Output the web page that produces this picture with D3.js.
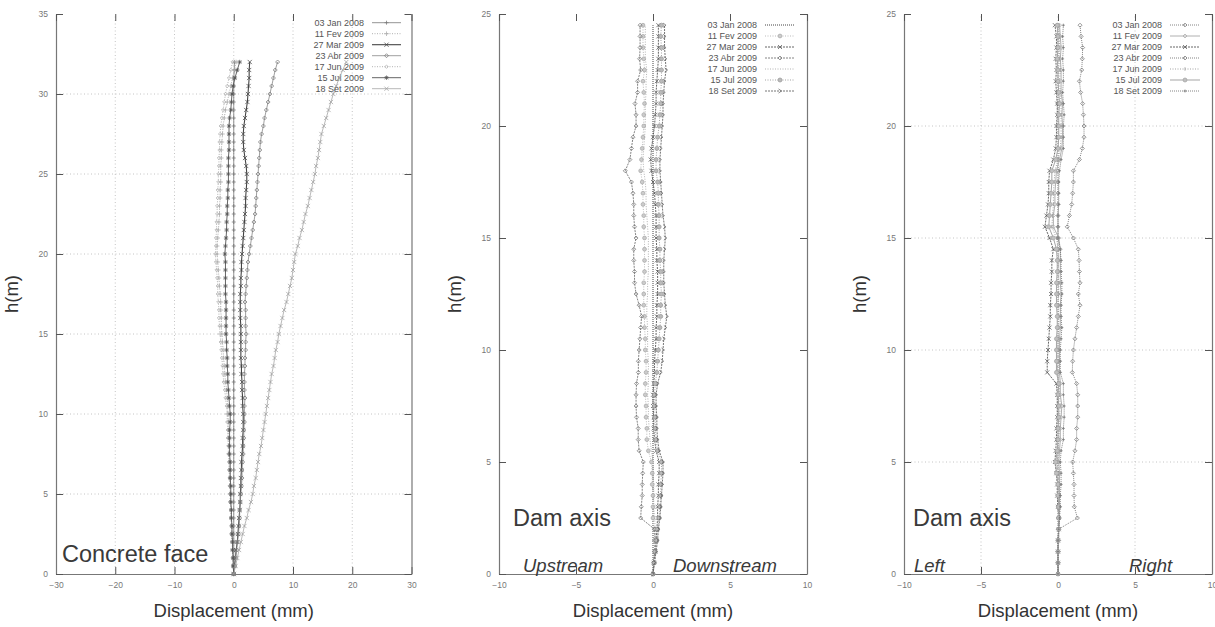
<!DOCTYPE html>
<html>
<head>
<meta charset="utf-8">
<script src="https://cdn.jsdelivr.net/npm/d3@7"></script>
<style>
body { margin: 0; background: #fff; }
svg { display: block; font-family: "Liberation Sans", Arial, sans-serif; }
</style>
</head>
<body>
<div id="chart"></div>
<script>
// dates of the readings (legend)
const dates = ["03 Jan 2008", "11 Fev 2009", "27 Mar 2009", "23 Abr 2009", "17 Jun 2009", "15 Jul 2009", "18 Set 2009"];

// tick labels
const xTicksFace = [-30, -20, -10, 0, 10, 20, 30];
const yTicksFace = [0, 5, 10, 15, 20, 25, 30, 35];
const xTicksAxis = [-10, -5, 0, 5, 10];
const yTicksAxis = [0, 5, 10, 15, 20, 25];

// gauge heights (m)
const hFace = [0, 0.5, 1, 1.5, 2, 2.5, 3, 3.5, 4, 4.5,
  5, 5.5, 6, 6.5, 7, 7.5, 8, 8.5, 9, 9.5,
  10, 10.5, 11, 11.5, 12, 12.5, 13, 13.5, 14, 14.5,
  15, 15.5, 16, 16.5, 17, 17.5, 18, 18.5, 19, 19.5,
  20, 20.5, 21, 21.5, 22, 22.5, 23, 23.5, 24, 24.5,
  25, 25.5, 26, 26.5, 27, 27.5, 28, 28.5, 29, 29.5,
  30, 30.5, 31, 31.5, 32];
const hAxis = [0, 0.5, 1, 1.5, 2, 2.5, 3, 3.5, 4, 4.5,
  5, 5.5, 6, 6.5, 7, 7.5, 8, 8.5, 9, 9.5,
  10, 10.5, 11, 11.5, 12, 12.5, 13, 13.5, 14, 14.5,
  15, 15.5, 16, 16.5, 17, 17.5, 18, 18.5, 19, 19.5,
  20, 20.5, 21, 21.5, 22, 22.5, 23, 23.5, 24, 24.5];

// concrete face displacements (mm)
const faceJan08 = [0, 0, 0, 0, 0, 0, 0, 0, 0, 0,
  0, 0, 0, 0, 0, 0, 0, 0, 0, 0,
  0, 0, 0, 0, 0, 0, 0, 0, 0, 0,
  0, 0, 0, 0, 0, 0, 0, 0, 0, 0,
  0, 0, 0, 0, 0, 0, 0, 0, 0, 0,
  0, 0, 0, 0, 0, 0, 0, 0, 0, 0,
  0, 0, 0, 0.1, 0.1];
const faceFev09 = [0.0, 0.0, -0.1, -0.1, -0.2, -0.3, -0.3, -0.4, -0.4, -0.5,
  -0.5, -0.6, -0.6, -0.7, -0.7, -0.8, -0.8, -0.9, -0.9, -0.9,
  -1.0, -1.0, -1.1, -1.2, -1.4, -1.5, -1.6, -1.7, -1.8, -1.9,
  -2.0, -2.1, -2.1, -2.2, -2.2, -2.3, -2.4, -2.5, -2.6, -2.7,
  -2.8, -2.8, -2.7, -2.6, -2.5, -2.4, -2.4, -2.3, -2.3, -2.2,
  -2.2, -2.2, -2.1, -2.1, -2.0, -1.9, -1.8, -1.6, -1.4, -1.1,
  -0.8, -0.5, -0.2, 0.1, 0.4];
const faceMar09 = [0.0, 0.1, 0.3, 0.4, 0.6, 0.7, 0.8, 0.9, 1.0, 1.1,
  1.1, 1.2, 1.2, 1.3, 1.3, 1.4, 1.5, 1.5, 1.6, 1.6,
  1.6, 1.5, 1.5, 1.4, 1.4, 1.3, 1.3, 1.2, 1.2, 1.2,
  1.2, 1.2, 1.1, 1.1, 1.1, 1.1, 1.2, 1.2, 1.3, 1.3,
  1.4, 1.5, 1.6, 1.7, 1.8, 1.9, 2.0, 2.0, 2.1, 2.2,
  2.2, 2.1, 1.9, 1.7, 1.6, 1.6, 1.7, 1.9, 2.1, 2.3,
  2.4, 2.5, 2.6, 2.6, 2.7];
const faceAbr09 = [0.0, 0.2, 0.3, 0.5, 0.6, 0.8, 0.9, 1.0, 1.0, 1.1,
  1.2, 1.3, 1.4, 1.4, 1.5, 1.6, 1.6, 1.7, 1.7, 1.8,
  1.8, 1.8, 1.9, 1.8, 1.8, 1.8, 1.9, 1.9, 2.0, 2.0,
  2.1, 2.0, 2.0, 2.0, 1.9, 2.0, 2.1, 2.2, 2.3, 2.4,
  2.6, 2.8, 3.0, 3.2, 3.4, 3.6, 3.7, 3.8, 3.9, 4.0,
  4.1, 4.2, 4.3, 4.4, 4.5, 4.7, 5.0, 5.2, 5.5, 5.8,
  6.1, 6.4, 6.7, 7.0, 7.4];
const faceJun09 = [0.0, -0.1, -0.2, -0.2, -0.3, -0.4, -0.4, -0.5, -0.5, -0.6,
  -0.6, -0.7, -0.7, -0.8, -0.8, -0.9, -0.9, -1.0, -1.0, -1.1,
  -1.1, -1.2, -1.4, -1.5, -1.7, -1.8, -1.9, -2.0, -2.1, -2.2,
  -2.3, -2.4, -2.5, -2.5, -2.6, -2.7, -2.7, -2.8, -2.9, -3.0,
  -3.1, -3.0, -3.0, -2.9, -2.9, -2.8, -2.8, -2.7, -2.7, -2.6,
  -2.6, -2.5, -2.5, -2.4, -2.4, -2.3, -2.2, -2.0, -1.8, -1.6,
  -1.4, -1.1, -0.8, -0.5, -0.2];
const faceJul09 = [0.0, -0.1, -0.1, -0.2, -0.2, -0.3, -0.3, -0.4, -0.4, -0.5,
  -0.5, -0.5, -0.6, -0.6, -0.6, -0.7, -0.7, -0.7, -0.7, -0.6,
  -0.6, -0.7, -0.8, -0.9, -1.0, -1.0, -1.1, -1.1, -1.2, -1.2,
  -1.3, -1.3, -1.3, -1.3, -1.3, -1.4, -1.4, -1.4, -1.4, -1.4,
  -1.5, -1.4, -1.3, -1.2, -1.2, -1.1, -1.1, -1.0, -1.0, -0.9,
  -0.9, -0.9, -0.9, -0.8, -0.8, -0.8, -0.8, -0.7, -0.5, -0.4,
  -0.3, -0.1, 0.2, 0.6, 1.0];
const faceSet09 = [0.0, 0.3, 0.6, 0.9, 1.2, 1.5, 1.8, 2.2, 2.5, 2.9,
  3.2, 3.4, 3.7, 3.9, 4.1, 4.3, 4.6, 4.8, 5.0, 5.2,
  5.4, 5.6, 5.8, 6.0, 6.2, 6.4, 6.7, 6.9, 7.1, 7.4,
  7.6, 7.9, 8.2, 8.5, 8.9, 9.2, 9.5, 9.8, 10.0, 10.2,
  10.4, 10.8, 11.1, 11.5, 11.8, 12.1, 12.5, 12.8, 13.1, 13.4,
  13.7, 13.9, 14.2, 14.4, 14.6, 14.8, 15.2, 15.6, 16.0, 16.4,
  16.8, 17.3, 17.8, 18.4, 19.0];

// dam axis, upstream(-) / downstream(+) (mm)
const udJan08 = [0, 0, 0, 0, 0, 0, 0, 0, 0, 0,
  0, 0, 0, 0, 0, 0, 0, 0, 0, 0,
  0, 0, 0, 0, 0, 0, 0, 0, 0, 0,
  0, 0, 0, 0, 0, 0, 0, 0, 0, 0,
  0, 0, 0, 0, 0, 0, 0, 0, 0, 0];
const udFev09 = [0, 0.05, 0.1, 0.1, 0.1, 0.0, 0.0, 0.0, -0.05, -0.05,
  -0.1, -0.3, -0.4, -0.4, -0.45, -0.45, -0.5, -0.5, -0.45, -0.45,
  -0.5, -0.5, -0.55, -0.55, -0.6, -0.6, -0.6, -0.55, -0.55, -0.55,
  -0.55, -0.6, -0.6, -0.65, -0.65, -0.7, -0.8, -0.75, -0.7, -0.65,
  -0.6, -0.6, -0.55, -0.6, -0.65, -0.55, -0.6, -0.65, -0.65, -0.65];
const udMar09 = [0, 0.05, 0.15, 0.2, 0.25, 0.3, 0.3, 0.35, 0.35, 0.4,
  0.4, 0.2, 0.1, 0.05, 0.05, 0.0, 0.0, 0.05, 0.1, 0.1,
  0.15, 0.2, 0.2, 0.25, 0.25, 0.3, 0.3, 0.3, 0.25, 0.25,
  0.2, 0.2, 0.2, 0.15, 0.1, 0.0, -0.1, -0.15, -0.1, 0.0,
  0.1, 0.15, 0.2, 0.2, 0.25, 0.3, 0.35, 0.35, 0.35, 0.35];
const udAbr09 = [0, 0.05, 0.1, 0.15, 0.1, -0.8, -0.76, -0.7, -0.7, -0.67,
  -0.63, -0.9, -0.96, -0.96, -1.07, -1.1, -1.1, -1.07, -0.95, -0.95,
  -0.9, -0.85, -0.8, -0.74, -0.9, -1.1, -1.2, -1.2, -1.25, -1.25,
  -1.1, -1.2, -1.25, -1.25, -1.3, -1.4, -1.8, -1.5, -1.4, -1.3,
  -1.1, -1.1, -1.17, -1.0, -1.0, -0.8, -0.87, -0.84, -0.84, -0.84];
const udJun09 = [0, 0.05, 0.1, 0.15, 0.15, 0.1, 0.05, 0.05, 0.05, 0.0,
  0.0, -0.1, -0.2, -0.25, -0.3, -0.3, -0.35, -0.3, -0.3, -0.3,
  -0.35, -0.35, -0.35, -0.4, -0.4, -0.35, -0.35, -0.3, -0.3, -0.3,
  -0.3, -0.35, -0.4, -0.45, -0.45, -0.5, -0.6, -0.65, -0.6, -0.55,
  -0.5, -0.5, -0.5, -0.45, -0.45, -0.4, -0.5, -0.5, -0.5, -0.5];
const udJul09 = [0, 0.1, 0.15, 0.25, 0.3, 0.4, 0.45, 0.5, 0.5, 0.55,
  0.55, 0.3, 0.2, 0.15, 0.15, 0.1, 0.1, 0.15, 0.25, 0.3,
  0.35, 0.4, 0.45, 0.5, 0.5, 0.55, 0.5, 0.5, 0.45, 0.45,
  0.4, 0.4, 0.4, 0.35, 0.35, 0.3, 0.2, 0.2, 0.25, 0.3,
  0.4, 0.45, 0.5, 0.5, 0.55, 0.55, 0.55, 0.55, 0.5, 0.55];
const udSet09 = [0, 0.1, 0.2, 0.3, 0.35, 0.45, 0.5, 0.55, 0.6, 0.65,
  0.65, 0.4, 0.3, 0.25, 0.25, 0.2, 0.2, 0.3, 0.5, 0.6,
  0.65, 0.7, 0.8, 0.9, 0.8, 0.75, 0.7, 0.7, 0.7, 0.75,
  0.8, 0.75, 0.65, 0.6, 0.55, 0.5, 0.45, 0.45, 0.5, 0.55,
  0.6, 0.65, 0.65, 0.7, 0.75, 0.85, 0.8, 0.75, 0.75, 0.75];

// dam axis, left(-) / right(+) (mm)
const lrJan08 = [0, 0, 0, 0, 0, 0, 0, 0, 0, 0,
  0, 0, 0, 0, 0, 0, 0, 0, 0, 0,
  0, 0, 0, 0, 0, 0, 0, 0, 0, 0,
  0, 0, 0, 0, 0, 0, 0, 0, 0, 0,
  0, 0, 0, 0, 0, 0, 0, 0, 0, 0];
const lrFev09 = [0, 0, 0, 0.05, 0.05, 0.1, 0.1, 0.1, 0.1, 0.1,
  0.05, 0.1, 0.15, 0.15, 0.2, 0.25, 0.15, 0.15, 0.1, 0.1,
  0.1, 0.1, 0.15, 0.15, 0.15, 0.2, 0.15, 0.15, 0.15, 0.15,
  0.05, -0.3, -0.3, -0.2, -0.2, -0.15, -0.1, 0.1, 0.25, 0.3,
  0.3, 0.25, 0.3, 0.2, 0.2, 0.2, 0.15, 0.2, 0.15, 0.1];
const lrMar09 = [0, 0, 0, 0, 0.05, 0.05, 0.0, -0.05, -0.05, -0.1,
  -0.2, -0.15, -0.1, -0.1, -0.05, -0.05, -0.05, -0.1, -0.7, -0.7,
  -0.65, -0.6, -0.55, -0.5, -0.5, -0.45, -0.45, -0.4, -0.4, -0.3,
  -0.55, -0.85, -0.75, -0.65, -0.6, -0.6, -0.55, -0.3, -0.15, -0.1,
  -0.1, -0.05, -0.05, -0.1, -0.15, -0.1, -0.15, -0.1, -0.1, -0.2];
const lrAbr09 = [0, 0, 0, 0.02, 0.04, 1.26, 1.06, 1.04, 1.04, 1.0,
  0.95, 1.1, 1.21, 1.21, 1.28, 1.28, 1.28, 1.21, 0.93, 0.95,
  1.0, 1.1, 1.21, 1.32, 1.43, 1.32, 1.43, 1.39, 1.37, 1.32,
  1.0, 0.6, 0.74, 0.89, 0.95, 1.0, 1.0, 1.39, 1.58, 1.69,
  1.69, 1.65, 1.6, 1.47, 1.39, 1.54, 1.58, 1.6, 1.5, 1.43];
const lrJun09 = [0, 0, 0, 0.05, 0.05, 0.05, 0.1, 0.05, 0.05, 0.0,
  -0.05, 0.0, 0.05, 0.1, 0.1, 0.15, 0.1, 0.1, -0.05, 0.0,
  0.0, 0.0, 0.05, 0.05, 0.0, 0.05, 0.05, 0.0, 0.05, 0.0,
  -0.1, -0.4, -0.35, -0.3, -0.3, -0.25, -0.2, 0.0, 0.15, 0.2,
  0.2, 0.2, 0.2, 0.15, 0.1, 0.15, 0.1, 0.1, 0.1, 0.05];
const lrJul09 = [0, 0, 0, 0, 0.05, 0.05, 0.05, 0.0, 0.0, -0.1,
  -0.15, -0.05, 0.0, 0.0, 0.05, 0.05, 0.0, 0.05, -0.1, -0.1,
  -0.1, -0.1, -0.05, -0.05, -0.1, -0.1, -0.1, -0.05, -0.05, -0.1,
  -0.3, -0.6, -0.55, -0.5, -0.45, -0.4, -0.4, -0.15, 0.0, 0.05,
  0.05, 0.05, 0.1, 0.05, 0.0, 0.0, -0.05, 0.0, 0.0, -0.05];
const lrSet09 = [0, 0, 0, 0, 0.05, 0.1, 0.15, 0.15, 0.2, 0.2,
  0.15, 0.2, 0.35, 0.35, 0.4, 0.4, 0.35, 0.35, 0.15, 0.15,
  0.15, 0.2, 0.25, 0.2, 0.2, 0.25, 0.25, 0.2, 0.2, 0.15,
  0.0, 0.0, 0.0, 0.05, 0.05, 0.05, 0.1, 0.2, 0.35, 0.35,
  0.35, 0.4, 0.35, 0.3, 0.35, 0.35, 0.3, 0.35, 0.3, 0.35];

const width = 1215, height = 627;

const svg = d3.select("#chart").append("svg")
  .attr("width", width)
  .attr("height", height);

// gnuplot-like point shapes
function markerPath(type, s) {
  if (type === "plus") return `M${-s},0H${s}M0,${-s}V${s}`;
  if (type === "cross") return `M${-s},${-s}L${s},${s}M${-s},${s}L${s},${-s}`;
  if (type === "star") { const d = s * 0.75; return `M${-s},0H${s}M0,${-s}V${s}M${-d},${-d}L${d},${d}M${-d},${d}L${d},${-d}`; }
  if (type === "diamond") return `M0,${-s}L${s},0L0,${s}L${-s},0Z`;
  if (type === "circle") return d3.symbol(d3.symbolCircle, Math.PI * s * s)();
  if (type === "bar") return `M0,${-s}V${s}`;
  if (type === "chevron") return `M${-s * 0.7},${-s}L${s * 0.7},0L${-s * 0.7},${s}`;
  return null;
}

function drawPanel(p) {
  const x = d3.scaleLinear().domain(p.xDomain).range([p.left, p.right]);
  const y = d3.scaleLinear().domain(p.yDomain).range([p.bottom, p.top]);
  const g = svg.append("g");

  // dotted grid
  if (p.grid) {
    g.selectAll(".gx").data(p.xTicks.slice(1, -1)).enter().append("line")
      .attr("x1", d => x(d)).attr("x2", d => x(d))
      .attr("y1", p.bottom).attr("y2", p.top)
      .attr("stroke", "#c4c4c4").attr("stroke-width", 1).attr("stroke-dasharray", "1,2.5");
    g.selectAll(".gy").data(p.yTicks.slice(1, -1)).enter().append("line")
      .attr("x1", p.left).attr("x2", p.right)
      .attr("y1", d => y(d)).attr("y2", d => y(d))
      .attr("stroke", "#c4c4c4").attr("stroke-width", 1).attr("stroke-dasharray", "1,2.5");
  }

  // axes with inward ticks, mirrored on top and right
  const axB = g.append("g").attr("transform", `translate(0,${p.bottom})`)
    .call(d3.axisBottom(x).tickValues(p.xTicks).tickSize(-7).tickSizeOuter(0).tickPadding(8));
  const axL = g.append("g").attr("transform", `translate(${p.left},0)`)
    .call(d3.axisLeft(y).tickValues(p.yTicks).tickSize(-7).tickSizeOuter(0).tickPadding(8));
  const axR = g.append("g").attr("transform", `translate(${p.right},0)`)
    .call(d3.axisRight(y).tickValues(p.yTicks).tickSize(-7).tickSizeOuter(0).tickFormat(""));
  const axT = g.append("g").attr("transform", `translate(0,${p.top})`)
    .call(d3.axisTop(x).tickValues(p.xTicks).tickSize(-7).tickSizeOuter(0).tickFormat(""));
  axT.select(".domain").remove();
  [axB, axL, axR, axT].forEach(a => {
    a.select(".domain").attr("stroke", "#777").attr("stroke-width", 1.2);
    a.selectAll(".tick line").attr("stroke", "#555").attr("stroke-width", 1);
    a.selectAll(".tick text").attr("fill", "#777").attr("font-size", 8.5)
      .attr("font-family", "Liberation Sans, Arial, sans-serif");
  });

  const line = d3.line().x(d => x(d.v)).y(d => y(d.h));

  p.series.forEach((s, i) => {
    const st = p.styles[i];
    const pts = s.map((v, k) => ({ v: v, h: p.heights[k] }));
    g.append("path").datum(pts)
      .attr("d", line)
      .attr("fill", "none")
      .attr("stroke", st.color)
      .attr("stroke-width", st.w)
      .attr("stroke-dasharray", st.dash || null);
    const mp = markerPath(st.marker, st.size);
    if (mp) {
      g.selectAll(null).data(pts).enter().append("path")
        .attr("transform", d => `translate(${x(d.v)},${y(d.h)})`)
        .attr("d", mp)
        .attr("fill", st.fill || "none")
        .attr("stroke", st.mcolor || st.color)
        .attr("stroke-width", 0.75);
    }

    // legend entry
    const ly = p.legend.y0 + i * p.legend.dy;
    g.append("text")
      .attr("x", p.legend.textRight).attr("y", ly).attr("dy", "0.35em")
      .attr("text-anchor", "end").attr("font-size", 9).attr("fill", "#555")
      .text(dates[i]);
    g.append("line")
      .attr("x1", p.legend.x1).attr("x2", p.legend.x2)
      .attr("y1", ly).attr("y2", ly)
      .attr("stroke", st.color).attr("stroke-width", st.w)
      .attr("stroke-dasharray", st.dash || null);
    if (mp) {
      g.append("path")
        .attr("transform", `translate(${(p.legend.x1 + p.legend.x2) / 2},${ly})`)
        .attr("d", mp)
        .attr("fill", st.fill || "none")
        .attr("stroke", st.mcolor || st.color)
        .attr("stroke-width", 0.75);
    }
  });

  // axis titles
  g.append("text")
    .attr("transform", `translate(${p.left - 38},${(p.top + p.bottom) / 2}) rotate(-90)`)
    .attr("text-anchor", "middle").attr("font-size", 18.5).attr("fill", "#333")
    .text("h(m)");
  g.append("text")
    .attr("x", (p.left + p.right) / 2).attr("y", 617)
    .attr("text-anchor", "middle").attr("font-size", 18.5).attr("fill", "#333")
    .text("Displacement (mm)");

  // annotations
  p.notes.forEach(n => {
    g.append("text")
      .attr("x", n.x).attr("y", n.y)
      .attr("font-size", n.size).attr("fill", "#3a3a3a")
      .attr("font-style", n.italic ? "italic" : "normal")
      .text(n.text);
  });
}

drawPanel({
  left: 56, right: 411.5, top: 14, bottom: 574,
  xDomain: [-30, 30], yDomain: [0, 35],
  xTicks: xTicksFace, yTicks: yTicksFace, grid: true,
  heights: hFace,
  series: [faceJan08, faceFev09, faceMar09, faceAbr09, faceJun09, faceJul09, faceSet09],
  styles: [
    { color: "#777", w: 0.8, marker: "plus", size: 2 },
    { color: "#b0b0b0", w: 1, dash: "1,1.5", marker: "plus", size: 2.3, mcolor: "#aaa" },
    { color: "#444", w: 1.1, marker: "cross", size: 2.1 },
    { color: "#888", w: 0.8, marker: "diamond", size: 2, mcolor: "#777" },
    { color: "#aaa", w: 0.9, dash: "1,1.5", marker: "diamond", size: 1.7, mcolor: "#b0b0b0" },
    { color: "#555", w: 0.9, marker: "star", size: 2.2 },
    { color: "#b0b0b0", w: 0.9, marker: "cross", size: 2.1, mcolor: "#a0a0a0" }
  ],
  legend: { textRight: 364, x1: 372, x2: 401, y0: 22.7, dy: 11 },
  notes: [{ text: "Concrete face", x: 62, y: 562, size: 23.5 }]
});

drawPanel({
  left: 499, right: 807, top: 14, bottom: 574,
  xDomain: [-10, 10], yDomain: [0, 25],
  xTicks: xTicksAxis, yTicks: yTicksAxis, grid: false,
  heights: hAxis,
  series: [udJan08, udFev09, udMar09, udAbr09, udJun09, udJul09, udSet09],
  styles: [
    { color: "#444", w: 1, dash: "1,1", marker: "none" },
    { color: "#bbb", w: 1, dash: "1,1.5", marker: "circle", size: 1.9, mcolor: "#aaa", fill: "#ccc" },
    { color: "#555", w: 0.9, dash: "2,1", marker: "cross", size: 2 },
    { color: "#777", w: 0.9, dash: "2,1", marker: "diamond", size: 2 },
    { color: "#aaa", w: 0.9, dash: "1,1.5", marker: "none" },
    { color: "#999", w: 0.9, dash: "1,1.5", marker: "circle", size: 2, mcolor: "#999", fill: "#bbb" },
    { color: "#666", w: 0.9, dash: "2,1", marker: "chevron", size: 2.1 }
  ],
  legend: { textRight: 757, x1: 765, x2: 795, y0: 25, dy: 11 },
  notes: [
    { text: "Dam axis", x: 513, y: 526, size: 23.5 },
    { text: "Upstream", x: 523, y: 572, size: 18.5, italic: true },
    { text: "Downstream", x: 673, y: 572, size: 18.5, italic: true }
  ]
});

drawPanel({
  left: 904, right: 1212, top: 14, bottom: 574,
  xDomain: [-10, 10], yDomain: [0, 25],
  xTicks: xTicksAxis, yTicks: yTicksAxis, grid: true,
  heights: hAxis,
  series: [lrJan08, lrFev09, lrMar09, lrAbr09, lrJun09, lrJul09, lrSet09],
  styles: [
    { color: "#777", w: 0.9, dash: "1,1", marker: "diamond", size: 1.9 },
    { color: "#b0b0b0", w: 1, marker: "diamond", size: 2, mcolor: "#aaa" },
    { color: "#555", w: 0.9, dash: "2,1", marker: "cross", size: 2 },
    { color: "#777", w: 0.9, dash: "1,1", marker: "diamond", size: 2 },
    { color: "#999", w: 0.9, dash: "1,1.5", marker: "bar", size: 1.8 },
    { color: "#a5a5a5", w: 1, marker: "circle", size: 2, fill: "#c0c0c0" },
    { color: "#777", w: 0.9, dash: "1,1", marker: "plus", size: 1.5 }
  ],
  legend: { textRight: 1162, x1: 1170, x2: 1200, y0: 25, dy: 11 },
  notes: [
    { text: "Dam axis", x: 913, y: 526, size: 23.5 },
    { text: "Left", x: 914, y: 572, size: 18.5, italic: true },
    { text: "Right", x: 1129, y: 572, size: 18.5, italic: true }
  ]
});
</script>
</body>
</html>
